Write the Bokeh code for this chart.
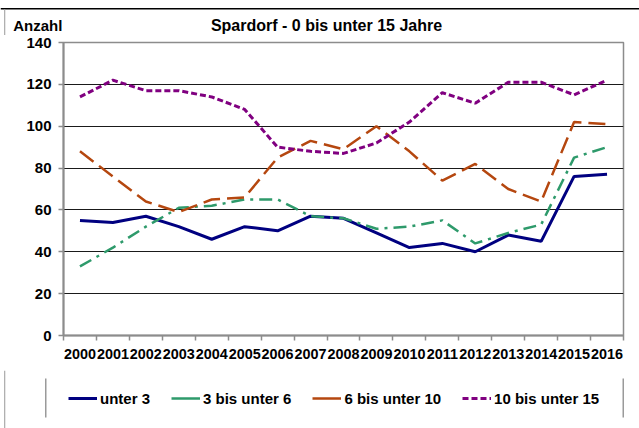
from bokeh.plotting import figure
from bokeh.models import (ColumnDataSource, Range1d, FixedTicker, Legend,
                          LegendItem, BoxAnnotation)
from bokeh.core.properties import value
from bokeh.embed import file_html
from bokeh.resources import INLINE

years = ["2000", "2001", "2002", "2003", "2004", "2005", "2006", "2007", "2008",
         "2009", "2010", "2011", "2012", "2013", "2014", "2015", "2016"]
unter_3 = [55, 54, 57, 52, 46, 52, 50, 57, 56, 49, 42, 44, 40, 48, 45, 76, 77]
bis_unter_6 = [33, 42, 52, 61, 62, 65, 65, 57, 56, 51, 52, 55, 44, 49, 53, 85, 90]
bis_unter_10 = [88, 76, 64, 59, 65, 66, 85, 93, 89, 100, 88, 74, 82, 70, 64, 102, 101]
bis_unter_15 = [114, 122, 117, 117, 114, 108, 90, 88, 87, 92, 102, 116, 111, 121, 121, 115, 122]
y_ticks = [0, 20, 40, 60, 80, 100, 120, 140]

series_names = ["unter 3", "3 bis unter 6", "6 bis unter 10", "10 bis unter 15"]
title_text = "Spardorf - 0 bis unter 15 Jahre"
y_title = "Anzahl"

FONT = "Liberation Sans"
W = 639
colors = ["#000080", "#2e9a6b", "#b5470f", "#800080"]
widths = [3, 2.5, 2.5, 3]
dashes = ["solid", "13 6 3 6", "17 7", "6 3"]
legend_dashes = ["solid", "solid", "solid", "6 3"]
cols = ["a", "b", "c", "d"]

xpos = [i + 0.5 for i in range(len(years))]
src = ColumnDataSource(dict(x=xpos, years=years, a=unter_3, b=bis_unter_6,
                            c=bis_unter_10, d=bis_unter_15))


def strip(height, y0):
    f = figure(frame_width=W, frame_height=height, output_backend="svg",
               toolbar_location=None, x_range=Range1d(0, W),
               y_range=Range1d(y0 + height, y0),
               min_border=0, min_border_left=0, min_border_right=0,
               min_border_top=0, min_border_bottom=0,
               x_axis_location=None, y_axis_location=None)
    f.grid.visible = False
    f.outline_line_color = None
    f.background_fill_color = "white"
    f.border_fill_color = "white"
    return f


def frame_line(f, left, right, top, bottom, color):
    f.add_layout(BoxAnnotation(left=left, right=right, top=top, bottom=bottom,
                               fill_color=color, fill_alpha=1, line_color=None))


# ---- header strip ----
head = strip(35, 0)
frame_line(head, 0, W, 7.5, 9, "black")
frame_line(head, 3.5, 4.8, 9, 35, "#b0b0b0")
head.text(x=[12.7], y=[25], text=[y_title], text_font=value(FONT),
          text_font_style="bold", text_font_size="15px", text_color="black",
          text_align="left", text_baseline="alphabetic")
head.text(x=[326], y=[25], text=[title_text], text_font=value(FONT),
          text_font_style="bold", text_font_size="16px", text_color="black",
          text_align="center", text_baseline="alphabetic")

# ---- main chart ----
p = figure(frame_width=560, frame_height=293, output_backend="svg",
           toolbar_location=None, x_range=Range1d(0, len(years)),
           y_range=Range1d(0, 140),
           min_border_left=63, min_border_right=16, min_border_top=7,
           min_border_bottom=35)
p.background_fill_color = "white"
p.border_fill_color = "white"
p.outline_line_color = "#8c8c8c"
p.outline_line_width = 1.5

xa = p.xaxis[0]
xa.ticker = FixedTicker(ticks=xpos, minor_ticks=list(range(len(years) + 1)))
xa.major_label_overrides = {x: y for x, y in zip(xpos, years)}
xa.major_tick_out = 0
xa.major_tick_in = 0
xa.minor_tick_out = 5
xa.minor_tick_in = 0
xa.minor_tick_line_color = "#8c8c8c"
xa.minor_tick_line_width = 1.5
xa.axis_line_color = "#8c8c8c"
xa.axis_line_width = 2
xa.major_label_standoff = 8
xa.major_label_text_font = FONT
xa.major_label_text_font_style = "bold"
xa.major_label_text_font_size = "14.4px"
xa.major_label_text_color = "black"

ya = p.yaxis[0]
ya.ticker = FixedTicker(ticks=y_ticks)
ya.minor_tick_line_color = None
ya.major_tick_out = 5
ya.major_tick_in = 0
ya.major_tick_line_color = "#8c8c8c"
ya.major_tick_line_width = 1.5
ya.axis_line_color = "#8c8c8c"
ya.axis_line_width = 2
ya.major_label_standoff = 7
ya.major_label_text_font = FONT
ya.major_label_text_font_style = "bold"
ya.major_label_text_font_size = "15px"
ya.major_label_text_color = "black"

p.xgrid.grid_line_color = None
p.ygrid.ticker = FixedTicker(ticks=y_ticks[1:-1])
p.ygrid.grid_line_color = "#1a1a1a"
p.ygrid.grid_line_width = 1.2

for c, col, w, d in zip(cols, colors, widths, dashes):
    p.line("x", c, source=src, line_color=col, line_width=w, line_dash=d)

# ---- legend strip ----
leg = strip(58, 370)
frame_line(leg, 3.5, 4.8, 370, 428, "#b0b0b0")
frame_line(leg, 44.5, 46, 378, 417, "#9a9a9a")
frame_line(leg, 622, 623.5, 378, 417, "#9a9a9a")
leg_renderers = [leg.line("x", c, source=src, visible=False, line_color=col,
                          line_width=w, line_dash=d)
                 for c, col, w, d in zip(cols, colors, widths, legend_dashes)]
legend = Legend(items=[LegendItem(label=n, renderers=[r]) for n, r in
                       zip(series_names, leg_renderers)],
                orientation="horizontal", location=(68, 20),
                glyph_width=29, glyph_height=20, label_standoff=3, spacing=21,
                padding=5, margin=0,
                label_text_font=FONT, label_text_font_style="bold",
                label_text_font_size="15px", label_text_color="black",
                border_line_color=None, background_fill_alpha=0,
                inactive_fill_alpha=0)
leg.add_layout(legend, "center")

open("out.html", "w").write(file_html([head, p, leg], INLINE))
